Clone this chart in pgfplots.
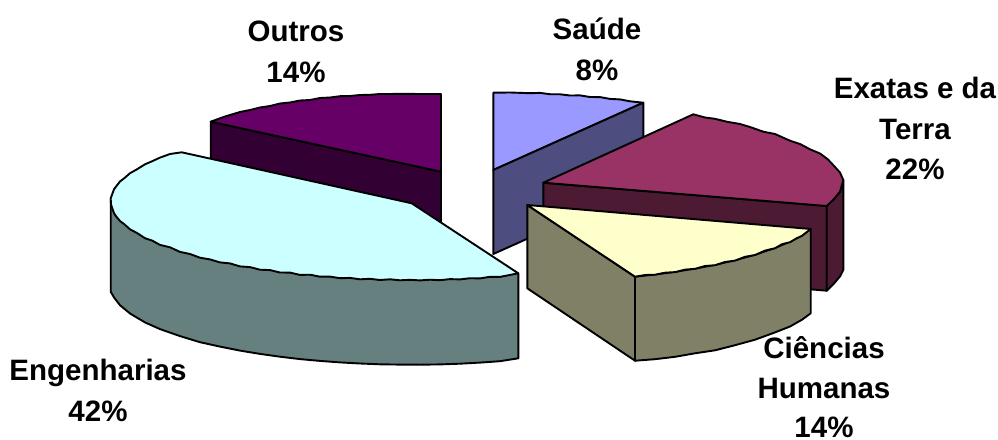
\documentclass[border=0pt]{standalone}
\usepackage{pgfplots}
\pgfplotsset{compat=1.18}
\usepackage{fontspec}
\setmainfont{Liberation Sans}
\definecolor{outT}{HTML}{660066}\definecolor{outS}{HTML}{330033}
\definecolor{engT}{HTML}{CCFFFF}\definecolor{engS}{HTML}{668080}
\definecolor{sauT}{HTML}{9999FF}\definecolor{sauS}{HTML}{4D4D80}
\definecolor{exaT}{HTML}{993366}\definecolor{exaS}{HTML}{4D1A33}
\definecolor{ciiT}{HTML}{FFFFCC}\definecolor{ciiS}{HTML}{808066}
\tikzset{lab/.style={font=\fontsize{29.5}{30}\bfseries\selectfont, anchor=base, inner sep=0pt}}
\begin{document}
\begin{tikzpicture}
\clip (0,0) rectangle (998pt,439pt);
\begin{axis}[
  at={(0,0)}, anchor=south west,
  scale only axis, width=998pt, height=439pt,
  xmin=0, xmax=998, ymin=0, ymax=439, y dir=reverse,
  hide axis, clip=false,
  every axis plot/.append style={draw=black, line width=1.9pt, line join=round},
]
% Outros
\addplot[fill=outS] coordinates {(210.7,121.7)(441,171.7)(441,255)(210.7,205)} -- cycle;
\addplot[fill=outT] coordinates {(441,171.7)(210.7,121.7)(225,116.5)(240,112)(250,110)(260,107.5)(270,106)(280,103.5)(290,102.5)(300,100.5)(310,100)(320,98)(330,97.5)(340,96.2)(350,96)(360,95)(370,94.8)(380,94)(390,94)(400,93.8)(420,94)(441,94)} -- cycle;
% Saude
\addplot[fill=sauT] coordinates {(493.3,170)(493.3,92.7)(510,92.5)(530,93.2)(540,92.9)(550,94.2)(560,94.3)(570,95.5)(580,95.4)(590,97)(600,97.1)(610,98.9)(620,99.4)(630,101.3)(643.3,102.7)} -- cycle;
\addplot[fill=sauS] coordinates {(493.3,170)(643.3,102.7)(643.3,186.7)(493.3,254)} -- cycle;
% Exatas e da Terra
\addplot[fill=exaS] coordinates {(543.3,182.7)(826.7,206)(826.7,290.7)(543.3,267)} -- cycle;
\addplot[fill=exaS] coordinates {(826.7,206)(834,199)(840,191.7)(843.3,180)(843.3,270)(840,276.4)(834,283.5)(826.7,290.7)} -- cycle;
\addplot[fill=exaT] coordinates {(543.3,182.7)(693.3,114.3)(705,117.5)(715,118.8)(726.7,121.7)(740,124)(750,127)(763.3,131.7)(775,134)(790,140.7)(800,144)(810,149.3)(820,153.5)(828,159.5)(835,167)(840,172.5)(843.3,180)(840,191.7)(834,199)(826.7,206)} -- cycle;
% Ciencias Humanas
\addplot[fill=ciiS] coordinates {(527.3,205)(635,276.7)(635,360.7)(527.3,288.3)} -- cycle;
\addplot[fill=ciiS] coordinates {(635,276.7)(655,274.5)(675,271.8)(695,268.6)(715,264.8)(735,260.2)(755,254.7)(775,247.9)(790,241.6)(802,235.2)(810.7,229)(810.7,313.3)(802,319.7)(790,326.5)(775,332.4)(755,339.7)(735,345.2)(715,350.3)(695,353.3)(675,356.8)(655,359.2)(635,360.7)} -- cycle;
\addplot[fill=ciiT] coordinates {(527.3,205)(810.7,229)(802,235.8)(796,238.6)(790,242.2)(782,244.2)(775,248.2)(765,250.6)(755,255)(745,256.8)(735,260.6)(725,262)(715,265.2)(705,266)(695,268.8)(685,269.6)(675,272.1)(665,272.7)(655,274.7)(645,275)(635,276.7)} -- cycle;
% Engenharias
\addplot[fill=engS] coordinates {(110.7,198.3)(110.7,291.7)(114,297.4)(120,305.2)(130,313.5)(145,322.4)(160,329.1)(180,336.1)(200,342.2)(220,346.6)(240,350.6)(260,353.9)(280,356.7)(300,359.1)(320,360.9)(340,362.4)(360,363.5)(380,364.3)(400,364.6)(420,364.7)(440,364.4)(460,363.7)(480,362.6)(500,361.2)(518.3,358.3)(518.3,273.3)} -- cycle;
\addplot[fill=engT] coordinates {(411.7,203.3)(518.3,273.3)(500,276.9)(490,276.8)(480,278.4)(470,278.2)(460,279.4)(450,279.1)(440,280.2)(430,279.7)(420,280.4)(410,279.8)(400,280.3)(390,279.3)(380,280)(370,278.8)(360,279.3)(350,277.9)(340,278.2)(330,276.6)(320,276.7)(310,274.7)(300,274.9)(290,272.6)(280,272.5)(270,270.1)(260,269.7)(250,267.1)(240,266.4)(230,263.4)(220,262.4)(210,259.4)(200,257.7)(190,254)(180,251.9)(170,247.3)(160,244.9)(152,240.5)(145,238.2)(137,233)(130,229.3)(124,224)(120,221)(116,216.2)(114,213.2)(111,204.5)(110.7,198.3)(111,197.5)(114,189.3)(117,185.3)(120,181.5)(125,177.6)(130,173.2)(137,169.3)(145,164.3)(152,161.3)(160,157.6)(170,154)(181.7,152.3)} -- cycle;
% Rotulos
\node[lab] at (axis cs:296,41) {Outros};
\node[lab] at (axis cs:296,82) {14\%};
\node[lab] at (axis cs:597,39) {Saúde};
\node[lab] at (axis cs:597,80) {8\%};
\node[lab] at (axis cs:915,98.5) {Exatas e da};
\node[lab] at (axis cs:915,139) {Terra};
\node[lab] at (axis cs:915,179.5) {22\%};
\node[lab] at (axis cs:824,358) {Ciências};
\node[lab] at (axis cs:824,398) {Humanas};
\node[lab] at (axis cs:824,437) {14\%};
\node[lab] at (axis cs:98,380.5) {Engenharias};
\node[lab] at (axis cs:98,421.5) {42\%};
\end{axis}
\end{tikzpicture}
\end{document}
